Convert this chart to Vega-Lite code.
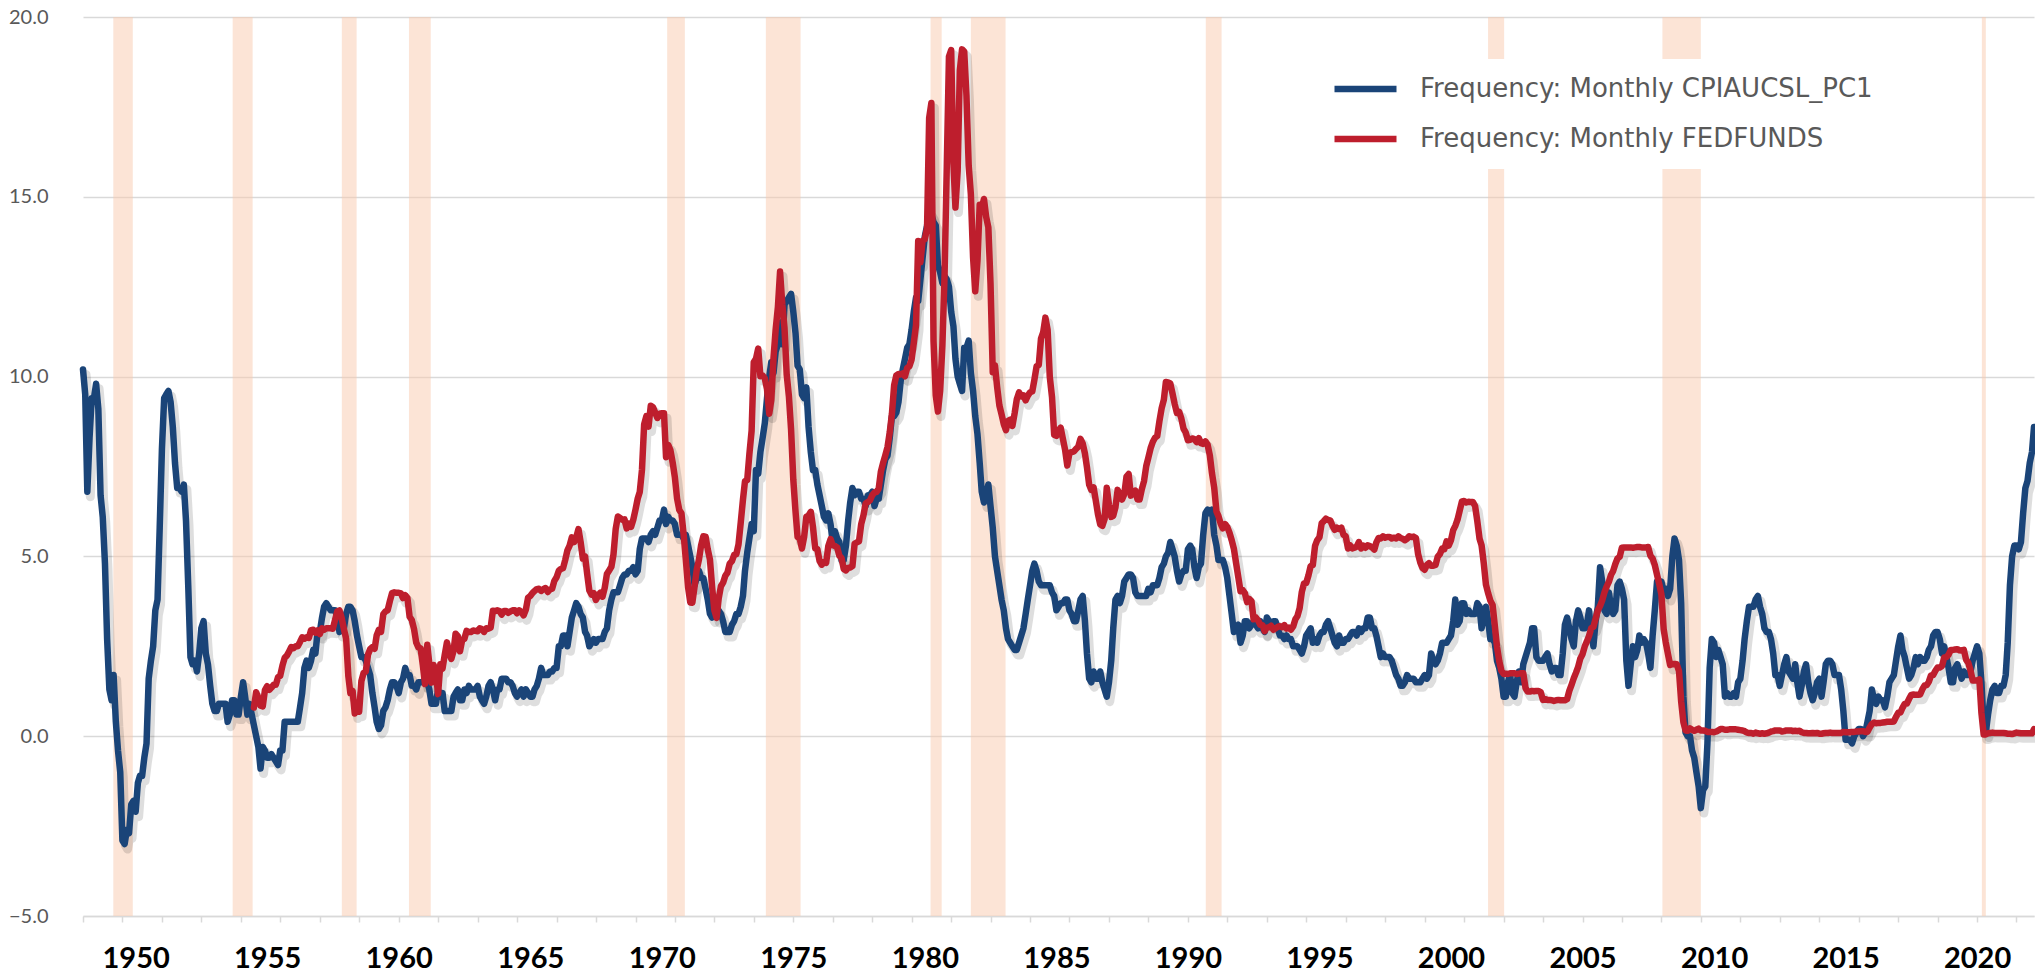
{
"$schema": "https://vega.github.io/schema/vega-lite/v6.json",
"width": 1951,
"height": 899,
"autosize": {"type": "none"},
"padding": {"left": 83, "top": 17, "right": 1, "bottom": 56},
"background": "#ffffff",
"datasets": {
"r": [
{"d":"1949-02-25","e":"1949-11-22"},{"d":"1953-09-09","e":"1954-06-13"},{"d":"1957-11-03","e":"1958-05-27"},{"d":"1960-05-23","e":"1961-03-21"},{"d":"1970-03-17","e":"1970-11-17"},{"d":"1973-12-16","e":"1975-04-12"},{"d":"1980-03-21","e":"1980-08-22"},{"d":"1981-10-01","e":"1983-01-26"},{"d":"1990-09-06","e":"1991-04-13"},{"d":"2001-05-30","e":"2002-01-08"},{"d":"2008-01-15","e":"2009-07-01"},{"d":"2020-03-07","e":"2020-05-01"}
],
"m": [
{"d":"1948-01","c":10.2},{"d":"1948-02","c":9.5},{"d":"1948-03","c":6.8},{"d":"1948-04","c":8.3},{"d":"1948-05","c":9.4},{"d":"1948-06","c":9.4},{"d":"1948-07","c":9.8},{"d":"1948-08","c":9.1},{"d":"1948-09","c":6.7},{"d":"1948-10","c":6.1},{"d":"1948-11","c":4.8},{"d":"1948-12","c":2.7},
{"d":"1949-01","c":1.3},{"d":"1949-02","c":1.0},{"d":"1949-03","c":1.7},{"d":"1949-04","c":0.4},{"d":"1949-05","c":-0.4},{"d":"1949-06","c":-1.0},{"d":"1949-07","c":-2.9},{"d":"1949-08","c":-3.0},{"d":"1949-09","c":-2.6},{"d":"1949-10","c":-2.7},{"d":"1949-11","c":-1.9},{"d":"1949-12","c":-1.8},
{"d":"1950-01","c":-2.1},{"d":"1950-02","c":-1.3},{"d":"1950-03","c":-1.1},{"d":"1950-04","c":-1.1},{"d":"1950-05","c":-0.6},{"d":"1950-06","c":-0.2},{"d":"1950-07","c":1.6},{"d":"1950-08","c":2.1},{"d":"1950-09","c":2.5},{"d":"1950-10","c":3.5},{"d":"1950-11","c":3.8},{"d":"1950-12","c":5.8},
{"d":"1951-01","c":8.0},{"d":"1951-02","c":9.4},{"d":"1951-03","c":9.5},{"d":"1951-04","c":9.6},{"d":"1951-05","c":9.3},{"d":"1951-06","c":8.6},{"d":"1951-07","c":7.6},{"d":"1951-08","c":6.9},{"d":"1951-09","c":6.9},{"d":"1951-10","c":6.8},{"d":"1951-11","c":7.0},{"d":"1951-12","c":6.0},
{"d":"1952-01","c":4.2},{"d":"1952-02","c":2.2},{"d":"1952-03","c":2.0},{"d":"1952-04","c":2.1},{"d":"1952-05","c":1.8},{"d":"1952-06","c":2.3},{"d":"1952-07","c":3.0},{"d":"1952-08","c":3.2},{"d":"1952-09","c":2.3},{"d":"1952-10","c":2.0},{"d":"1952-11","c":1.4},{"d":"1952-12","c":0.9},
{"d":"1953-01","c":0.7},{"d":"1953-02","c":0.7},{"d":"1953-03","c":0.9},{"d":"1953-04","c":0.9},{"d":"1953-05","c":0.9},{"d":"1953-06","c":0.9},{"d":"1953-07","c":0.4},{"d":"1953-08","c":0.6},{"d":"1953-09","c":1.0},{"d":"1953-10","c":1.0},{"d":"1953-11","c":0.6},{"d":"1953-12","c":0.6},
{"d":"1954-01","c":1.1},{"d":"1954-02","c":1.5},{"d":"1954-03","c":1.1},{"d":"1954-04","c":0.6},{"d":"1954-05","c":0.9},{"d":"1954-06","c":0.6},{"d":"1954-07","c":0.3,"f":0.80},{"d":"1954-08","c":0.0,"f":1.22},{"d":"1954-09","c":-0.3,"f":1.07},{"d":"1954-10","c":-0.9,"f":0.85},{"d":"1954-11","c":-0.3,"f":0.83},{"d":"1954-12","c":-0.4,"f":1.28},
{"d":"1955-01","c":-0.6,"f":1.39},{"d":"1955-02","c":-0.6,"f":1.29},{"d":"1955-03","c":-0.5,"f":1.35},{"d":"1955-04","c":-0.6,"f":1.43},{"d":"1955-05","c":-0.7,"f":1.43},{"d":"1955-06","c":-0.8,"f":1.64},{"d":"1955-07","c":-0.4,"f":1.68},{"d":"1955-08","c":-0.4,"f":1.96},{"d":"1955-09","c":0.4,"f":2.18},{"d":"1955-10","c":0.4,"f":2.24},{"d":"1955-11","c":0.4,"f":2.35},{"d":"1955-12","c":0.4,"f":2.48},
{"d":"1956-01","c":0.4,"f":2.45},{"d":"1956-02","c":0.4,"f":2.50},{"d":"1956-03","c":0.4,"f":2.50},{"d":"1956-04","c":0.8,"f":2.62},{"d":"1956-05","c":1.2,"f":2.75},{"d":"1956-06","c":1.9,"f":2.71},{"d":"1956-07","c":2.1,"f":2.75},{"d":"1956-08","c":1.9,"f":2.73},{"d":"1956-09","c":2.1,"f":2.95},{"d":"1956-10","c":2.4,"f":2.96},{"d":"1956-11","c":2.3,"f":2.88},{"d":"1956-12","c":2.9,"f":2.94},
{"d":"1957-01","c":2.9,"f":2.84},{"d":"1957-02","c":3.3,"f":3.00},{"d":"1957-03","c":3.6,"f":2.96},{"d":"1957-04","c":3.7,"f":3.00},{"d":"1957-05","c":3.6,"f":3.00},{"d":"1957-06","c":3.5,"f":3.00},{"d":"1957-07","c":3.5,"f":2.99},{"d":"1957-08","c":3.5,"f":3.24},{"d":"1957-09","c":3.3,"f":3.47},{"d":"1957-10","c":2.9,"f":3.50},{"d":"1957-11","c":3.3,"f":3.28},{"d":"1957-12","c":3.0,"f":2.98},
{"d":"1958-01","c":3.4,"f":2.72},{"d":"1958-02","c":3.6,"f":1.67},{"d":"1958-03","c":3.6,"f":1.20},{"d":"1958-04","c":3.5,"f":1.26},{"d":"1958-05","c":3.2,"f":0.63},{"d":"1958-06","c":2.8,"f":0.93},{"d":"1958-07","c":2.5,"f":0.68},{"d":"1958-08","c":2.2,"f":1.53},{"d":"1958-09","c":2.2,"f":1.76},{"d":"1958-10","c":2.1,"f":1.80},{"d":"1958-11","c":1.9,"f":2.27},{"d":"1958-12","c":1.7,"f":2.42},
{"d":"1959-01","c":1.2,"f":2.48},{"d":"1959-02","c":0.8,"f":2.43},{"d":"1959-03","c":0.4,"f":2.80},{"d":"1959-04","c":0.2,"f":2.96},{"d":"1959-05","c":0.3,"f":2.90},{"d":"1959-06","c":0.7,"f":3.39},{"d":"1959-07","c":0.8,"f":3.47},{"d":"1959-08","c":1.0,"f":3.50},{"d":"1959-09","c":1.3,"f":3.76},{"d":"1959-10","c":1.5,"f":3.98},{"d":"1959-11","c":1.5,"f":4.00},{"d":"1959-12","c":1.4,"f":3.99},
{"d":"1960-01","c":1.2,"f":3.99},{"d":"1960-02","c":1.5,"f":3.97},{"d":"1960-03","c":1.6,"f":3.84},{"d":"1960-04","c":1.9,"f":3.92},{"d":"1960-05","c":1.7,"f":3.85},{"d":"1960-06","c":1.7,"f":3.32},{"d":"1960-07","c":1.4,"f":3.23},{"d":"1960-08","c":1.4,"f":2.98},{"d":"1960-09","c":1.3,"f":2.60},{"d":"1960-10","c":1.5,"f":2.47},{"d":"1960-11","c":1.5,"f":2.44},{"d":"1960-12","c":1.5,"f":1.98},
{"d":"1961-01","c":1.6,"f":1.45},{"d":"1961-02","c":1.5,"f":2.54},{"d":"1961-03","c":1.3,"f":2.02},{"d":"1961-04","c":0.9,"f":1.49},{"d":"1961-05","c":0.9,"f":1.98},{"d":"1961-06","c":0.9,"f":1.73},{"d":"1961-07","c":1.3,"f":1.17},{"d":"1961-08","c":1.1,"f":2.00},{"d":"1961-09","c":1.2,"f":1.88},{"d":"1961-10","c":0.7,"f":2.26},{"d":"1961-11","c":0.7,"f":2.61},{"d":"1961-12","c":0.7,"f":2.33},
{"d":"1962-01","c":0.7,"f":2.15},{"d":"1962-02","c":1.1,"f":2.37},{"d":"1962-03","c":1.2,"f":2.85},{"d":"1962-04","c":1.3,"f":2.78},{"d":"1962-05","c":1.0,"f":2.36},{"d":"1962-06","c":1.0,"f":2.68},{"d":"1962-07","c":1.3,"f":2.71},{"d":"1962-08","c":1.2,"f":2.93},{"d":"1962-09","c":1.4,"f":2.90},{"d":"1962-10","c":1.3,"f":2.90},{"d":"1962-11","c":1.3,"f":2.94},{"d":"1962-12","c":1.3,"f":2.93},
{"d":"1963-01","c":1.4,"f":2.92},{"d":"1963-02","c":1.1,"f":3.00},{"d":"1963-03","c":1.0,"f":2.98},{"d":"1963-04","c":0.9,"f":2.90},{"d":"1963-05","c":1.1,"f":3.00},{"d":"1963-06","c":1.4,"f":2.99},{"d":"1963-07","c":1.5,"f":3.02},{"d":"1963-08","c":1.3,"f":3.49},{"d":"1963-09","c":1.0,"f":3.48},{"d":"1963-10","c":1.3,"f":3.50},{"d":"1963-11","c":1.3,"f":3.48},{"d":"1963-12","c":1.6,"f":3.38},
{"d":"1964-01","c":1.6,"f":3.48},{"d":"1964-02","c":1.6,"f":3.48},{"d":"1964-03","c":1.5,"f":3.43},{"d":"1964-04","c":1.5,"f":3.47},{"d":"1964-05","c":1.4,"f":3.50},{"d":"1964-06","c":1.2,"f":3.50},{"d":"1964-07","c":1.1,"f":3.42},{"d":"1964-08","c":1.2,"f":3.50},{"d":"1964-09","c":1.3,"f":3.45},{"d":"1964-10","c":1.1,"f":3.36},{"d":"1964-11","c":1.3,"f":3.52},{"d":"1964-12","c":1.2,"f":3.85},
{"d":"1965-01","c":1.1,"f":3.90},{"d":"1965-02","c":1.1,"f":3.98},{"d":"1965-03","c":1.3,"f":4.04},{"d":"1965-04","c":1.4,"f":4.09},{"d":"1965-05","c":1.6,"f":4.10},{"d":"1965-06","c":1.9,"f":4.04},{"d":"1965-07","c":1.7,"f":4.09},{"d":"1965-08","c":1.7,"f":4.12},{"d":"1965-09","c":1.7,"f":4.01},{"d":"1965-10","c":1.8,"f":4.08},{"d":"1965-11","c":1.8,"f":4.10},{"d":"1965-12","c":1.9,"f":4.32},
{"d":"1966-01","c":1.9,"f":4.42},{"d":"1966-02","c":2.5,"f":4.60},{"d":"1966-03","c":2.5,"f":4.65},{"d":"1966-04","c":2.8,"f":4.67},{"d":"1966-05","c":2.8,"f":4.90},{"d":"1966-06","c":2.5,"f":5.17},{"d":"1966-07","c":2.9,"f":5.30},{"d":"1966-08","c":3.3,"f":5.53},{"d":"1966-09","c":3.5,"f":5.40},{"d":"1966-10","c":3.7,"f":5.53},{"d":"1966-11","c":3.6,"f":5.76},{"d":"1966-12","c":3.4,"f":5.40},
{"d":"1967-01","c":3.3,"f":4.94},{"d":"1967-02","c":2.9,"f":5.00},{"d":"1967-03","c":2.8,"f":4.53},{"d":"1967-04","c":2.5,"f":4.05},{"d":"1967-05","c":2.6,"f":3.94},{"d":"1967-06","c":2.7,"f":3.98},{"d":"1967-07","c":2.6,"f":3.79},{"d":"1967-08","c":2.7,"f":3.90},{"d":"1967-09","c":2.7,"f":3.99},{"d":"1967-10","c":2.7,"f":3.88},{"d":"1967-11","c":2.9,"f":4.13},{"d":"1967-12","c":3.0,"f":4.51},
{"d":"1968-01","c":3.5,"f":4.61},{"d":"1968-02","c":3.8,"f":4.71},{"d":"1968-03","c":4.0,"f":5.05},{"d":"1968-04","c":4.0,"f":5.76},{"d":"1968-05","c":4.0,"f":6.11},{"d":"1968-06","c":4.2,"f":6.07},{"d":"1968-07","c":4.4,"f":6.02},{"d":"1968-08","c":4.5,"f":6.03},{"d":"1968-09","c":4.5,"f":5.78},{"d":"1968-10","c":4.6,"f":5.91},{"d":"1968-11","c":4.6,"f":5.82},{"d":"1968-12","c":4.7,"f":6.02},
{"d":"1969-01","c":4.5,"f":6.30},{"d":"1969-02","c":4.6,"f":6.61},{"d":"1969-03","c":5.2,"f":6.79},{"d":"1969-04","c":5.5,"f":7.41},{"d":"1969-05","c":5.5,"f":8.67},{"d":"1969-06","c":5.5,"f":8.90},{"d":"1969-07","c":5.4,"f":8.61},{"d":"1969-08","c":5.6,"f":9.19},{"d":"1969-09","c":5.7,"f":9.15},{"d":"1969-10","c":5.6,"f":9.00},{"d":"1969-11","c":5.8,"f":8.85},{"d":"1969-12","c":6.0,"f":8.97},
{"d":"1970-01","c":6.0,"f":8.98},{"d":"1970-02","c":6.3,"f":8.98},{"d":"1970-03","c":5.9,"f":7.76},{"d":"1970-04","c":6.1,"f":8.10},{"d":"1970-05","c":6.0,"f":7.95},{"d":"1970-06","c":6.0,"f":7.61},{"d":"1970-07","c":5.9,"f":7.21},{"d":"1970-08","c":5.6,"f":6.61},{"d":"1970-09","c":5.6,"f":6.29},{"d":"1970-10","c":5.6,"f":6.20},{"d":"1970-11","c":5.5,"f":5.60},{"d":"1970-12","c":5.6,"f":4.90},
{"d":"1971-01","c":5.3,"f":4.14},{"d":"1971-02","c":5.0,"f":3.72},{"d":"1971-03","c":4.7,"f":3.71},{"d":"1971-04","c":4.2,"f":4.16},{"d":"1971-05","c":4.4,"f":4.63},{"d":"1971-06","c":4.6,"f":4.91},{"d":"1971-07","c":4.4,"f":5.31},{"d":"1971-08","c":4.4,"f":5.56},{"d":"1971-09","c":4.1,"f":5.55},{"d":"1971-10","c":3.8,"f":5.20},{"d":"1971-11","c":3.4,"f":4.91},{"d":"1971-12","c":3.3,"f":4.14},
{"d":"1972-01","c":3.4,"f":3.50},{"d":"1972-02","c":3.5,"f":3.29},{"d":"1972-03","c":3.5,"f":3.83},{"d":"1972-04","c":3.4,"f":4.17},{"d":"1972-05","c":3.2,"f":4.27},{"d":"1972-06","c":2.9,"f":4.46},{"d":"1972-07","c":2.9,"f":4.55},{"d":"1972-08","c":2.9,"f":4.80},{"d":"1972-09","c":3.1,"f":4.87},{"d":"1972-10","c":3.2,"f":5.04},{"d":"1972-11","c":3.4,"f":5.06},{"d":"1972-12","c":3.4,"f":5.33},
{"d":"1973-01","c":3.6,"f":5.94},{"d":"1973-02","c":3.9,"f":6.58},{"d":"1973-03","c":4.6,"f":7.09},{"d":"1973-04","c":5.1,"f":7.12},{"d":"1973-05","c":5.5,"f":7.84},{"d":"1973-06","c":5.9,"f":8.49},{"d":"1973-07","c":5.7,"f":10.40},{"d":"1973-08","c":7.4,"f":10.50},{"d":"1973-09","c":7.3,"f":10.78},{"d":"1973-10","c":7.9,"f":10.01},{"d":"1973-11","c":8.3,"f":10.03},{"d":"1973-12","c":8.7,"f":9.95},
{"d":"1974-01","c":9.4,"f":9.65},{"d":"1974-02","c":10.0,"f":8.97},{"d":"1974-03","c":10.4,"f":9.35},{"d":"1974-04","c":10.1,"f":10.51},{"d":"1974-05","c":10.7,"f":11.31},{"d":"1974-06","c":10.9,"f":11.93},{"d":"1974-07","c":11.5,"f":12.92},{"d":"1974-08","c":10.9,"f":12.01},{"d":"1974-09","c":12.0,"f":11.34},{"d":"1974-10","c":12.1,"f":10.06},{"d":"1974-11","c":12.2,"f":9.45},{"d":"1974-12","c":12.3,"f":8.53},
{"d":"1975-01","c":11.8,"f":7.13},{"d":"1975-02","c":11.2,"f":6.24},{"d":"1975-03","c":10.3,"f":5.54},{"d":"1975-04","c":10.2,"f":5.49},{"d":"1975-05","c":9.5,"f":5.22},{"d":"1975-06","c":9.4,"f":5.55},{"d":"1975-07","c":9.7,"f":6.10},{"d":"1975-08","c":8.6,"f":6.14},{"d":"1975-09","c":7.9,"f":6.24},{"d":"1975-10","c":7.4,"f":5.82},{"d":"1975-11","c":7.4,"f":5.22},{"d":"1975-12","c":7.0,"f":5.20},
{"d":"1976-01","c":6.7,"f":4.87},{"d":"1976-02","c":6.4,"f":4.77},{"d":"1976-03","c":6.1,"f":4.84},{"d":"1976-04","c":6.0,"f":4.82},{"d":"1976-05","c":6.2,"f":5.29},{"d":"1976-06","c":5.9,"f":5.48},{"d":"1976-07","c":5.4,"f":5.31},{"d":"1976-08","c":5.7,"f":5.29},{"d":"1976-09","c":5.5,"f":5.25},{"d":"1976-10","c":5.4,"f":5.02},{"d":"1976-11","c":4.9,"f":4.95},{"d":"1976-12","c":4.9,"f":4.65},
{"d":"1977-01","c":5.3,"f":4.61},{"d":"1977-02","c":6.0,"f":4.68},{"d":"1977-03","c":6.5,"f":4.69},{"d":"1977-04","c":6.9,"f":4.73},{"d":"1977-05","c":6.7,"f":5.35},{"d":"1977-06","c":6.8,"f":5.39},{"d":"1977-07","c":6.8,"f":5.42},{"d":"1977-08","c":6.6,"f":5.90},{"d":"1977-09","c":6.6,"f":6.14},{"d":"1977-10","c":6.4,"f":6.47},{"d":"1977-11","c":6.7,"f":6.51},{"d":"1977-12","c":6.7,"f":6.56},
{"d":"1978-01","c":6.8,"f":6.70},{"d":"1978-02","c":6.4,"f":6.78},{"d":"1978-03","c":6.6,"f":6.79},{"d":"1978-04","c":6.6,"f":6.89},{"d":"1978-05","c":7.0,"f":7.36},{"d":"1978-06","c":7.4,"f":7.60},{"d":"1978-07","c":7.7,"f":7.81},{"d":"1978-08","c":7.8,"f":8.04},{"d":"1978-09","c":8.3,"f":8.45},{"d":"1978-10","c":8.9,"f":8.96},{"d":"1978-11","c":8.9,"f":9.76},{"d":"1978-12","c":9.0,"f":10.03},
{"d":"1979-01","c":9.3,"f":10.07},{"d":"1979-02","c":9.9,"f":10.06},{"d":"1979-03","c":10.2,"f":10.09},{"d":"1979-04","c":10.5,"f":10.01},{"d":"1979-05","c":10.8,"f":10.24},{"d":"1979-06","c":10.9,"f":10.29},{"d":"1979-07","c":11.3,"f":10.47},{"d":"1979-08","c":11.8,"f":10.94},{"d":"1979-09","c":12.2,"f":11.43},{"d":"1979-10","c":12.1,"f":13.77},{"d":"1979-11","c":12.7,"f":13.18},{"d":"1979-12","c":13.3,"f":13.78},
{"d":"1980-01","c":13.9,"f":13.82},{"d":"1980-02","c":14.2,"f":14.13},{"d":"1980-03","c":14.6,"f":17.19},{"d":"1980-04","c":14.5,"f":17.61},{"d":"1980-05","c":14.3,"f":10.98},{"d":"1980-06","c":14.2,"f":9.47},{"d":"1980-07","c":13.1,"f":9.03},{"d":"1980-08","c":12.9,"f":9.61},{"d":"1980-09","c":12.6,"f":10.87},{"d":"1980-10","c":12.8,"f":12.81},{"d":"1980-11","c":12.7,"f":15.85},{"d":"1980-12","c":12.5,"f":18.90},
{"d":"1981-01","c":11.8,"f":19.08},{"d":"1981-02","c":11.4,"f":15.93},{"d":"1981-03","c":10.5,"f":14.70},{"d":"1981-04","c":10.0,"f":15.72},{"d":"1981-05","c":9.8,"f":18.52},{"d":"1981-06","c":9.6,"f":19.10},{"d":"1981-07","c":10.8,"f":19.04},{"d":"1981-08","c":10.8,"f":17.82},{"d":"1981-09","c":11.0,"f":15.87},{"d":"1981-10","c":10.1,"f":15.08},{"d":"1981-11","c":9.6,"f":13.31},{"d":"1981-12","c":8.9,"f":12.37},
{"d":"1982-01","c":8.4,"f":13.22},{"d":"1982-02","c":7.6,"f":14.78},{"d":"1982-03","c":6.8,"f":14.68},{"d":"1982-04","c":6.5,"f":14.94},{"d":"1982-05","c":6.7,"f":14.45},{"d":"1982-06","c":7.0,"f":14.15},{"d":"1982-07","c":6.4,"f":12.59},{"d":"1982-08","c":5.8,"f":10.12},{"d":"1982-09","c":5.0,"f":10.31},{"d":"1982-10","c":4.6,"f":9.71},{"d":"1982-11","c":4.2,"f":9.20},{"d":"1982-12","c":3.8,"f":8.95},
{"d":"1983-01","c":3.5,"f":8.68},{"d":"1983-02","c":3.0,"f":8.51},{"d":"1983-03","c":2.7,"f":8.77},{"d":"1983-04","c":2.6,"f":8.80},{"d":"1983-05","c":2.5,"f":8.63},{"d":"1983-06","c":2.4,"f":8.98},{"d":"1983-07","c":2.4,"f":9.37},{"d":"1983-08","c":2.6,"f":9.56},{"d":"1983-09","c":2.8,"f":9.45},{"d":"1983-10","c":3.0,"f":9.48},{"d":"1983-11","c":3.4,"f":9.34},{"d":"1983-12","c":3.8,"f":9.47},
{"d":"1984-01","c":4.2,"f":9.56},{"d":"1984-02","c":4.6,"f":9.59},{"d":"1984-03","c":4.8,"f":9.91},{"d":"1984-04","c":4.6,"f":10.29},{"d":"1984-05","c":4.3,"f":10.32},{"d":"1984-06","c":4.2,"f":11.06},{"d":"1984-07","c":4.2,"f":11.23},{"d":"1984-08","c":4.2,"f":11.64},{"d":"1984-09","c":4.2,"f":11.30},{"d":"1984-10","c":4.2,"f":9.99},{"d":"1984-11","c":4.0,"f":9.43},{"d":"1984-12","c":3.9,"f":8.38},
{"d":"1985-01","c":3.5,"f":8.35},{"d":"1985-02","c":3.6,"f":8.50},{"d":"1985-03","c":3.7,"f":8.58},{"d":"1985-04","c":3.7,"f":8.27},{"d":"1985-05","c":3.8,"f":7.97},{"d":"1985-06","c":3.8,"f":7.53},{"d":"1985-07","c":3.5,"f":7.88},{"d":"1985-08","c":3.4,"f":7.90},{"d":"1985-09","c":3.2,"f":7.92},{"d":"1985-10","c":3.2,"f":7.99},{"d":"1985-11","c":3.5,"f":8.05},{"d":"1985-12","c":3.8,"f":8.27},
{"d":"1986-01","c":3.9,"f":8.14},{"d":"1986-02","c":3.2,"f":7.86},{"d":"1986-03","c":2.3,"f":7.48},{"d":"1986-04","c":1.6,"f":6.99},{"d":"1986-05","c":1.5,"f":6.85},{"d":"1986-06","c":1.8,"f":6.92},{"d":"1986-07","c":1.6,"f":6.56},{"d":"1986-08","c":1.6,"f":6.17},{"d":"1986-09","c":1.8,"f":5.89},{"d":"1986-10","c":1.5,"f":5.85},{"d":"1986-11","c":1.3,"f":6.04},{"d":"1986-12","c":1.1,"f":6.91},
{"d":"1987-01","c":1.5,"f":6.43},{"d":"1987-02","c":2.1,"f":6.10},{"d":"1987-03","c":3.0,"f":6.13},{"d":"1987-04","c":3.8,"f":6.37},{"d":"1987-05","c":3.9,"f":6.85},{"d":"1987-06","c":3.7,"f":6.73},{"d":"1987-07","c":3.9,"f":6.58},{"d":"1987-08","c":4.3,"f":6.73},{"d":"1987-09","c":4.4,"f":7.22},{"d":"1987-10","c":4.5,"f":7.29},{"d":"1987-11","c":4.5,"f":6.69},{"d":"1987-12","c":4.4,"f":6.77},
{"d":"1988-01","c":4.0,"f":6.83},{"d":"1988-02","c":3.9,"f":6.58},{"d":"1988-03","c":3.9,"f":6.58},{"d":"1988-04","c":3.9,"f":6.87},{"d":"1988-05","c":3.9,"f":7.09},{"d":"1988-06","c":3.9,"f":7.51},{"d":"1988-07","c":4.1,"f":7.75},{"d":"1988-08","c":4.0,"f":8.01},{"d":"1988-09","c":4.2,"f":8.19},{"d":"1988-10","c":4.2,"f":8.30},{"d":"1988-11","c":4.2,"f":8.35},{"d":"1988-12","c":4.4,"f":8.76},
{"d":"1989-01","c":4.7,"f":9.12},{"d":"1989-02","c":4.8,"f":9.36},{"d":"1989-03","c":5.0,"f":9.85},{"d":"1989-04","c":5.1,"f":9.84},{"d":"1989-05","c":5.4,"f":9.81},{"d":"1989-06","c":5.2,"f":9.53},{"d":"1989-07","c":5.0,"f":9.24},{"d":"1989-08","c":4.6,"f":8.99},{"d":"1989-09","c":4.3,"f":9.02},{"d":"1989-10","c":4.5,"f":8.84},{"d":"1989-11","c":4.6,"f":8.55},{"d":"1989-12","c":4.6,"f":8.45},
{"d":"1990-01","c":5.2,"f":8.23},{"d":"1990-02","c":5.3,"f":8.24},{"d":"1990-03","c":5.2,"f":8.28},{"d":"1990-04","c":4.7,"f":8.26},{"d":"1990-05","c":4.4,"f":8.18},{"d":"1990-06","c":4.7,"f":8.29},{"d":"1990-07","c":4.8,"f":8.15},{"d":"1990-08","c":5.6,"f":8.13},{"d":"1990-09","c":6.2,"f":8.20},{"d":"1990-10","c":6.3,"f":8.11},{"d":"1990-11","c":6.2,"f":7.81},{"d":"1990-12","c":6.3,"f":7.31},
{"d":"1991-01","c":5.6,"f":6.91},{"d":"1991-02","c":5.3,"f":6.25},{"d":"1991-03","c":4.9,"f":6.12},{"d":"1991-04","c":4.9,"f":5.91},{"d":"1991-05","c":4.9,"f":5.78},{"d":"1991-06","c":4.7,"f":5.90},{"d":"1991-07","c":4.4,"f":5.82},{"d":"1991-08","c":3.9,"f":5.66},{"d":"1991-09","c":3.4,"f":5.45},{"d":"1991-10","c":2.9,"f":5.21},{"d":"1991-11","c":3.0,"f":4.81},{"d":"1991-12","c":3.1,"f":4.43},
{"d":"1992-01","c":2.6,"f":4.03},{"d":"1992-02","c":2.8,"f":4.06},{"d":"1992-03","c":3.2,"f":3.98},{"d":"1992-04","c":3.2,"f":3.73},{"d":"1992-05","c":3.0,"f":3.82},{"d":"1992-06","c":3.1,"f":3.76},{"d":"1992-07","c":3.2,"f":3.25},{"d":"1992-08","c":3.1,"f":3.30},{"d":"1992-09","c":3.0,"f":3.22},{"d":"1992-10","c":3.2,"f":3.10},{"d":"1992-11","c":3.0,"f":3.09},{"d":"1992-12","c":2.9,"f":2.92},
{"d":"1993-01","c":3.3,"f":3.02},{"d":"1993-02","c":3.2,"f":3.03},{"d":"1993-03","c":3.1,"f":3.07},{"d":"1993-04","c":3.2,"f":2.96},{"d":"1993-05","c":3.2,"f":3.00},{"d":"1993-06","c":3.0,"f":3.04},{"d":"1993-07","c":2.8,"f":3.06},{"d":"1993-08","c":2.8,"f":3.03},{"d":"1993-09","c":2.7,"f":3.09},{"d":"1993-10","c":2.8,"f":2.99},{"d":"1993-11","c":2.7,"f":3.02},{"d":"1993-12","c":2.7,"f":2.96},
{"d":"1994-01","c":2.5,"f":3.05},{"d":"1994-02","c":2.5,"f":3.25},{"d":"1994-03","c":2.5,"f":3.34},{"d":"1994-04","c":2.4,"f":3.56},{"d":"1994-05","c":2.3,"f":4.01},{"d":"1994-06","c":2.5,"f":4.25},{"d":"1994-07","c":2.8,"f":4.26},{"d":"1994-08","c":2.9,"f":4.47},{"d":"1994-09","c":3.0,"f":4.73},{"d":"1994-10","c":2.6,"f":4.76},{"d":"1994-11","c":2.7,"f":5.29},{"d":"1994-12","c":2.6,"f":5.45},
{"d":"1995-01","c":2.8,"f":5.53},{"d":"1995-02","c":2.9,"f":5.92},{"d":"1995-03","c":2.9,"f":5.98},{"d":"1995-04","c":3.1,"f":6.05},{"d":"1995-05","c":3.2,"f":6.01},{"d":"1995-06","c":3.0,"f":6.00},{"d":"1995-07","c":2.8,"f":5.85},{"d":"1995-08","c":2.6,"f":5.74},{"d":"1995-09","c":2.5,"f":5.80},{"d":"1995-10","c":2.8,"f":5.76},{"d":"1995-11","c":2.6,"f":5.80},{"d":"1995-12","c":2.6,"f":5.60},
{"d":"1996-01","c":2.7,"f":5.56},{"d":"1996-02","c":2.7,"f":5.22},{"d":"1996-03","c":2.8,"f":5.31},{"d":"1996-04","c":2.9,"f":5.22},{"d":"1996-05","c":2.9,"f":5.24},{"d":"1996-06","c":2.8,"f":5.27},{"d":"1996-07","c":3.0,"f":5.40},{"d":"1996-08","c":2.9,"f":5.22},{"d":"1996-09","c":3.0,"f":5.30},{"d":"1996-10","c":3.0,"f":5.24},{"d":"1996-11","c":3.3,"f":5.31},{"d":"1996-12","c":3.3,"f":5.29},
{"d":"1997-01","c":3.0,"f":5.25},{"d":"1997-02","c":3.0,"f":5.19},{"d":"1997-03","c":2.8,"f":5.39},{"d":"1997-04","c":2.5,"f":5.51},{"d":"1997-05","c":2.2,"f":5.50},{"d":"1997-06","c":2.3,"f":5.56},{"d":"1997-07","c":2.2,"f":5.52},{"d":"1997-08","c":2.2,"f":5.54},{"d":"1997-09","c":2.2,"f":5.54},{"d":"1997-10","c":2.1,"f":5.50},{"d":"1997-11","c":1.9,"f":5.52},{"d":"1997-12","c":1.7,"f":5.50},
{"d":"1998-01","c":1.6,"f":5.56},{"d":"1998-02","c":1.4,"f":5.51},{"d":"1998-03","c":1.4,"f":5.49},{"d":"1998-04","c":1.5,"f":5.45},{"d":"1998-05","c":1.7,"f":5.49},{"d":"1998-06","c":1.6,"f":5.56},{"d":"1998-07","c":1.6,"f":5.54},{"d":"1998-08","c":1.6,"f":5.55},{"d":"1998-09","c":1.5,"f":5.51},{"d":"1998-10","c":1.5,"f":5.07},{"d":"1998-11","c":1.5,"f":4.83},{"d":"1998-12","c":1.6,"f":4.68},
{"d":"1999-01","c":1.7,"f":4.63},{"d":"1999-02","c":1.6,"f":4.76},{"d":"1999-03","c":1.7,"f":4.81},{"d":"1999-04","c":2.3,"f":4.74},{"d":"1999-05","c":2.1,"f":4.74},{"d":"1999-06","c":2.0,"f":4.76},{"d":"1999-07","c":2.1,"f":4.99},{"d":"1999-08","c":2.3,"f":5.07},{"d":"1999-09","c":2.6,"f":5.22},{"d":"1999-10","c":2.6,"f":5.20},{"d":"1999-11","c":2.6,"f":5.42},{"d":"1999-12","c":2.7,"f":5.30},
{"d":"2000-01","c":2.8,"f":5.45},{"d":"2000-02","c":3.2,"f":5.73},{"d":"2000-03","c":3.8,"f":5.85},{"d":"2000-04","c":3.1,"f":6.02},{"d":"2000-05","c":3.2,"f":6.27},{"d":"2000-06","c":3.7,"f":6.53},{"d":"2000-07","c":3.7,"f":6.54},{"d":"2000-08","c":3.4,"f":6.50},{"d":"2000-09","c":3.5,"f":6.52},{"d":"2000-10","c":3.4,"f":6.51},{"d":"2000-11","c":3.4,"f":6.51},{"d":"2000-12","c":3.4,"f":6.40},
{"d":"2001-01","c":3.7,"f":5.98},{"d":"2001-02","c":3.6,"f":5.49},{"d":"2001-03","c":3.0,"f":5.31},{"d":"2001-04","c":3.3,"f":4.80},{"d":"2001-05","c":3.6,"f":4.21},{"d":"2001-06","c":3.2,"f":3.97},{"d":"2001-07","c":2.7,"f":3.77},{"d":"2001-08","c":2.7,"f":3.65},{"d":"2001-09","c":2.6,"f":3.07},{"d":"2001-10","c":2.1,"f":2.49},{"d":"2001-11","c":1.9,"f":2.09},{"d":"2001-12","c":1.6,"f":1.82},
{"d":"2002-01","c":1.1,"f":1.73},{"d":"2002-02","c":1.1,"f":1.74},{"d":"2002-03","c":1.5,"f":1.73},{"d":"2002-04","c":1.7,"f":1.75},{"d":"2002-05","c":1.2,"f":1.75},{"d":"2002-06","c":1.1,"f":1.75},{"d":"2002-07","c":1.5,"f":1.73},{"d":"2002-08","c":1.8,"f":1.74},{"d":"2002-09","c":1.5,"f":1.75},{"d":"2002-10","c":2.0,"f":1.75},{"d":"2002-11","c":2.2,"f":1.34},{"d":"2002-12","c":2.4,"f":1.24},
{"d":"2003-01","c":2.6,"f":1.24},{"d":"2003-02","c":3.0,"f":1.26},{"d":"2003-03","c":3.0,"f":1.25},{"d":"2003-04","c":2.2,"f":1.26},{"d":"2003-05","c":2.1,"f":1.26},{"d":"2003-06","c":2.1,"f":1.22},{"d":"2003-07","c":2.1,"f":1.01},{"d":"2003-08","c":2.2,"f":1.03},{"d":"2003-09","c":2.3,"f":1.01},{"d":"2003-10","c":2.0,"f":1.01},{"d":"2003-11","c":1.8,"f":1.00},{"d":"2003-12","c":1.9,"f":0.98},
{"d":"2004-01","c":1.9,"f":1.00},{"d":"2004-02","c":1.7,"f":1.01},{"d":"2004-03","c":1.7,"f":1.00},{"d":"2004-04","c":2.3,"f":1.00},{"d":"2004-05","c":3.1,"f":1.00},{"d":"2004-06","c":3.3,"f":1.03},{"d":"2004-07","c":3.0,"f":1.26},{"d":"2004-08","c":2.7,"f":1.43},{"d":"2004-09","c":2.5,"f":1.61},{"d":"2004-10","c":3.2,"f":1.76},{"d":"2004-11","c":3.5,"f":1.93},{"d":"2004-12","c":3.3,"f":2.16},
{"d":"2005-01","c":3.0,"f":2.28},{"d":"2005-02","c":3.0,"f":2.50},{"d":"2005-03","c":3.1,"f":2.63},{"d":"2005-04","c":3.5,"f":2.79},{"d":"2005-05","c":2.9,"f":3.00},{"d":"2005-06","c":2.5,"f":3.04},{"d":"2005-07","c":3.2,"f":3.26},{"d":"2005-08","c":3.6,"f":3.50},{"d":"2005-09","c":4.7,"f":3.62},{"d":"2005-10","c":4.3,"f":3.78},{"d":"2005-11","c":3.5,"f":4.00},{"d":"2005-12","c":3.4,"f":4.16},
{"d":"2006-01","c":4.0,"f":4.29},{"d":"2006-02","c":3.6,"f":4.49},{"d":"2006-03","c":3.4,"f":4.59},{"d":"2006-04","c":3.5,"f":4.79},{"d":"2006-05","c":4.2,"f":4.94},{"d":"2006-06","c":4.3,"f":4.99},{"d":"2006-07","c":4.1,"f":5.24},{"d":"2006-08","c":3.8,"f":5.25},{"d":"2006-09","c":2.1,"f":5.25},{"d":"2006-10","c":1.4,"f":5.25},{"d":"2006-11","c":2.0,"f":5.25},{"d":"2006-12","c":2.5,"f":5.24},
{"d":"2007-01","c":2.2,"f":5.25},{"d":"2007-02","c":2.4,"f":5.26},{"d":"2007-03","c":2.8,"f":5.26},{"d":"2007-04","c":2.6,"f":5.25},{"d":"2007-05","c":2.7,"f":5.25},{"d":"2007-06","c":2.6,"f":5.25},{"d":"2007-07","c":2.3,"f":5.26},{"d":"2007-08","c":1.9,"f":5.02},{"d":"2007-09","c":2.8,"f":4.94},{"d":"2007-10","c":3.5,"f":4.76},{"d":"2007-11","c":4.3,"f":4.49},{"d":"2007-12","c":4.1,"f":4.24},
{"d":"2008-01","c":4.3,"f":3.94},{"d":"2008-02","c":4.0,"f":2.98},{"d":"2008-03","c":4.1,"f":2.61},{"d":"2008-04","c":3.9,"f":2.28},{"d":"2008-05","c":4.1,"f":1.98},{"d":"2008-06","c":5.0,"f":2.00},{"d":"2008-07","c":5.5,"f":2.01},{"d":"2008-08","c":5.3,"f":2.00},{"d":"2008-09","c":4.9,"f":1.81},{"d":"2008-10","c":3.7,"f":0.97},{"d":"2008-11","c":1.1,"f":0.39},{"d":"2008-12","c":0.1,"f":0.16},
{"d":"2009-01","c":0.0,"f":0.15},{"d":"2009-02","c":0.0,"f":0.22},{"d":"2009-03","c":-0.4,"f":0.18},{"d":"2009-04","c":-0.6,"f":0.15},{"d":"2009-05","c":-1.0,"f":0.18},{"d":"2009-06","c":-1.4,"f":0.21},{"d":"2009-07","c":-2.0,"f":0.16},{"d":"2009-08","c":-1.5,"f":0.16},{"d":"2009-09","c":-1.4,"f":0.15},{"d":"2009-10","c":-0.2,"f":0.12},{"d":"2009-11","c":1.9,"f":0.12},{"d":"2009-12","c":2.7,"f":0.12},
{"d":"2010-01","c":2.6,"f":0.11},{"d":"2010-02","c":2.2,"f":0.13},{"d":"2010-03","c":2.4,"f":0.16},{"d":"2010-04","c":2.2,"f":0.20},{"d":"2010-05","c":2.0,"f":0.20},{"d":"2010-06","c":1.1,"f":0.18},{"d":"2010-07","c":1.2,"f":0.18},{"d":"2010-08","c":1.1,"f":0.19},{"d":"2010-09","c":1.1,"f":0.19},{"d":"2010-10","c":1.2,"f":0.19},{"d":"2010-11","c":1.1,"f":0.19},{"d":"2010-12","c":1.5,"f":0.18},
{"d":"2011-01","c":1.6,"f":0.17},{"d":"2011-02","c":2.1,"f":0.16},{"d":"2011-03","c":2.7,"f":0.14},{"d":"2011-04","c":3.2,"f":0.10},{"d":"2011-05","c":3.6,"f":0.09},{"d":"2011-06","c":3.6,"f":0.09},{"d":"2011-07","c":3.6,"f":0.07},{"d":"2011-08","c":3.8,"f":0.10},{"d":"2011-09","c":3.9,"f":0.08},{"d":"2011-10","c":3.6,"f":0.07},{"d":"2011-11","c":3.4,"f":0.08},{"d":"2011-12","c":3.0,"f":0.07},
{"d":"2012-01","c":2.9,"f":0.08},{"d":"2012-02","c":2.9,"f":0.10},{"d":"2012-03","c":2.7,"f":0.13},{"d":"2012-04","c":2.3,"f":0.14},{"d":"2012-05","c":1.7,"f":0.16},{"d":"2012-06","c":1.7,"f":0.16},{"d":"2012-07","c":1.4,"f":0.16},{"d":"2012-08","c":1.7,"f":0.13},{"d":"2012-09","c":2.0,"f":0.14},{"d":"2012-10","c":2.2,"f":0.16},{"d":"2012-11","c":1.8,"f":0.16},{"d":"2012-12","c":1.7,"f":0.16},
{"d":"2013-01","c":1.6,"f":0.14},{"d":"2013-02","c":2.0,"f":0.15},{"d":"2013-03","c":1.5,"f":0.14},{"d":"2013-04","c":1.1,"f":0.15},{"d":"2013-05","c":1.4,"f":0.11},{"d":"2013-06","c":1.8,"f":0.09},{"d":"2013-07","c":2.0,"f":0.09},{"d":"2013-08","c":1.5,"f":0.08},{"d":"2013-09","c":1.2,"f":0.08},{"d":"2013-10","c":1.0,"f":0.09},{"d":"2013-11","c":1.2,"f":0.08},{"d":"2013-12","c":1.5,"f":0.09},
{"d":"2014-01","c":1.6,"f":0.07},{"d":"2014-02","c":1.1,"f":0.07},{"d":"2014-03","c":1.5,"f":0.08},{"d":"2014-04","c":2.0,"f":0.09},{"d":"2014-05","c":2.1,"f":0.09},{"d":"2014-06","c":2.1,"f":0.10},{"d":"2014-07","c":2.0,"f":0.09},{"d":"2014-08","c":1.7,"f":0.09},{"d":"2014-09","c":1.7,"f":0.09},{"d":"2014-10","c":1.7,"f":0.09},{"d":"2014-11","c":1.3,"f":0.09},{"d":"2014-12","c":0.7,"f":0.12},
{"d":"2015-01","c":-0.1,"f":0.11},{"d":"2015-02","c":-0.1,"f":0.11},{"d":"2015-03","c":-0.1,"f":0.11},{"d":"2015-04","c":-0.2,"f":0.12},{"d":"2015-05","c":0.0,"f":0.12},{"d":"2015-06","c":0.1,"f":0.13},{"d":"2015-07","c":0.2,"f":0.13},{"d":"2015-08","c":0.2,"f":0.14},{"d":"2015-09","c":0.0,"f":0.14},{"d":"2015-10","c":0.1,"f":0.12},{"d":"2015-11","c":0.4,"f":0.12},{"d":"2015-12","c":0.7,"f":0.24},
{"d":"2016-01","c":1.3,"f":0.34},{"d":"2016-02","c":1.0,"f":0.38},{"d":"2016-03","c":0.9,"f":0.36},{"d":"2016-04","c":1.1,"f":0.37},{"d":"2016-05","c":1.0,"f":0.37},{"d":"2016-06","c":1.0,"f":0.38},{"d":"2016-07","c":0.8,"f":0.39},{"d":"2016-08","c":1.1,"f":0.40},{"d":"2016-09","c":1.5,"f":0.40},{"d":"2016-10","c":1.6,"f":0.40},{"d":"2016-11","c":1.7,"f":0.41},{"d":"2016-12","c":2.1,"f":0.54},
{"d":"2017-01","c":2.5,"f":0.65},{"d":"2017-02","c":2.8,"f":0.66},{"d":"2017-03","c":2.4,"f":0.79},{"d":"2017-04","c":2.2,"f":0.90},{"d":"2017-05","c":1.9,"f":0.91},{"d":"2017-06","c":1.6,"f":1.04},{"d":"2017-07","c":1.7,"f":1.15},{"d":"2017-08","c":1.9,"f":1.16},{"d":"2017-09","c":2.2,"f":1.15},{"d":"2017-10","c":2.0,"f":1.15},{"d":"2017-11","c":2.2,"f":1.16},{"d":"2017-12","c":2.1,"f":1.30},
{"d":"2018-01","c":2.1,"f":1.41},{"d":"2018-02","c":2.2,"f":1.42},{"d":"2018-03","c":2.4,"f":1.51},{"d":"2018-04","c":2.5,"f":1.69},{"d":"2018-05","c":2.8,"f":1.70},{"d":"2018-06","c":2.9,"f":1.82},{"d":"2018-07","c":2.9,"f":1.91},{"d":"2018-08","c":2.7,"f":1.91},{"d":"2018-09","c":2.3,"f":1.95},{"d":"2018-10","c":2.5,"f":2.19},{"d":"2018-11","c":2.2,"f":2.20},{"d":"2018-12","c":1.9,"f":2.27},
{"d":"2019-01","c":1.5,"f":2.40},{"d":"2019-02","c":1.5,"f":2.40},{"d":"2019-03","c":1.9,"f":2.41},{"d":"2019-04","c":2.0,"f":2.42},{"d":"2019-05","c":1.8,"f":2.39},{"d":"2019-06","c":1.6,"f":2.38},{"d":"2019-07","c":1.8,"f":2.40},{"d":"2019-08","c":1.7,"f":2.13},{"d":"2019-09","c":1.7,"f":2.04},{"d":"2019-10","c":1.8,"f":1.83},{"d":"2019-11","c":2.1,"f":1.55},{"d":"2019-12","c":2.3,"f":1.55},
{"d":"2020-01","c":2.5,"f":1.55},{"d":"2020-02","c":2.3,"f":1.58},{"d":"2020-03","c":1.5,"f":0.65},{"d":"2020-04","c":0.3,"f":0.05},{"d":"2020-05","c":0.1,"f":0.05},{"d":"2020-06","c":0.6,"f":0.08},{"d":"2020-07","c":1.0,"f":0.09},{"d":"2020-08","c":1.3,"f":0.10},{"d":"2020-09","c":1.4,"f":0.09},{"d":"2020-10","c":1.2,"f":0.09},{"d":"2020-11","c":1.2,"f":0.09},{"d":"2020-12","c":1.4,"f":0.09},
{"d":"2021-01","c":1.4,"f":0.09},{"d":"2021-02","c":1.7,"f":0.08},{"d":"2021-03","c":2.6,"f":0.07},{"d":"2021-04","c":4.2,"f":0.07},{"d":"2021-05","c":5.0,"f":0.06},{"d":"2021-06","c":5.3,"f":0.08},{"d":"2021-07","c":5.3,"f":0.10},{"d":"2021-08","c":5.2,"f":0.09},{"d":"2021-09","c":5.4,"f":0.08},{"d":"2021-10","c":6.2,"f":0.08},{"d":"2021-11","c":6.9,"f":0.08},{"d":"2021-12","c":7.1,"f":0.08},
{"d":"2022-01","c":7.6,"f":0.08},{"d":"2022-02","c":7.9,"f":0.08},{"d":"2022-03","c":8.6,"f":0.20}
]
},
"encoding": {
"x": {
"field": "d", "type": "temporal", "title": null,
"scale": {"type": "utc", "domain": [{"year":1948,"month":1,"date":1,"utc":true},{"year":2022,"month":3,"date":1,"utc":true}]},
"axis": {
"values": [
{"year":1948,"month":1,"date":1,"utc":true},{"year":1949,"month":7,"date":1,"utc":true},{"year":1950,"month":1,"date":1,"utc":true},{"year":1951,"month":1,"date":1,"utc":true},{"year":1952,"month":7,"date":1,"utc":true},{"year":1954,"month":1,"date":1,"utc":true},{"year":1955,"month":1,"date":1,"utc":true},{"year":1955,"month":7,"date":1,"utc":true},{"year":1957,"month":1,"date":1,"utc":true},{"year":1958,"month":7,"date":1,"utc":true},{"year":1960,"month":1,"date":1,"utc":true},{"year":1961,"month":7,"date":1,"utc":true},{"year":1963,"month":1,"date":1,"utc":true},{"year":1964,"month":7,"date":1,"utc":true},{"year":1965,"month":1,"date":1,"utc":true},{"year":1966,"month":1,"date":1,"utc":true},{"year":1967,"month":7,"date":1,"utc":true},{"year":1969,"month":1,"date":1,"utc":true},{"year":1970,"month":1,"date":1,"utc":true},{"year":1970,"month":7,"date":1,"utc":true},{"year":1972,"month":1,"date":1,"utc":true},{"year":1973,"month":7,"date":1,"utc":true},{"year":1975,"month":1,"date":1,"utc":true},{"year":1976,"month":7,"date":1,"utc":true},{"year":1978,"month":1,"date":1,"utc":true},{"year":1979,"month":7,"date":1,"utc":true},{"year":1980,"month":1,"date":1,"utc":true},{"year":1981,"month":1,"date":1,"utc":true},{"year":1982,"month":7,"date":1,"utc":true},{"year":1984,"month":1,"date":1,"utc":true},{"year":1985,"month":1,"date":1,"utc":true},{"year":1985,"month":7,"date":1,"utc":true},{"year":1987,"month":1,"date":1,"utc":true},{"year":1988,"month":7,"date":1,"utc":true},{"year":1990,"month":1,"date":1,"utc":true},{"year":1991,"month":7,"date":1,"utc":true},{"year":1993,"month":1,"date":1,"utc":true},{"year":1994,"month":7,"date":1,"utc":true},{"year":1995,"month":1,"date":1,"utc":true},{"year":1996,"month":1,"date":1,"utc":true},{"year":1997,"month":7,"date":1,"utc":true},{"year":1999,"month":1,"date":1,"utc":true},{"year":2000,"month":1,"date":1,"utc":true},{"year":2000,"month":7,"date":1,"utc":true},{"year":2002,"month":1,"date":1,"utc":true},{"year":2003,"month":7,"date":1,"utc":true},{"year":2005,"month":1,"date":1,"utc":true},{"year":2006,"month":7,"date":1,"utc":true},{"year":2008,"month":1,"date":1,"utc":true},{"year":2009,"month":7,"date":1,"utc":true},{"year":2010,"month":1,"date":1,"utc":true},{"year":2011,"month":1,"date":1,"utc":true},{"year":2012,"month":7,"date":1,"utc":true},{"year":2014,"month":1,"date":1,"utc":true},{"year":2015,"month":1,"date":1,"utc":true},{"year":2015,"month":7,"date":1,"utc":true},{"year":2017,"month":1,"date":1,"utc":true},{"year":2018,"month":7,"date":1,"utc":true},{"year":2020,"month":1,"date":1,"utc":true},{"year":2021,"month":7,"date":1,"utc":true}
],
"labelExpr": "utcmonth(datum.value) == 0 && utcyear(datum.value) % 5 == 0 ? utcFormat(datum.value, '%Y') : ''",
"tickOpacity": {"condition": {"test": "utcmonth(datum.value) == 0 && (utcyear(datum.value) - 1948) % 3 != 0", "value": 0}, "value": 1},
"grid": false
}
}
},
"layer": [
{
"data": {"name": "r"},
"mark": {"type": "rect", "color": "#f9caad", "opacity": 0.5},
"encoding": {
"x2": {"field": "e"},
"y": {"datum": 20, "type": "quantitative", "title": null, "scale": {"domain": [-5, 20], "nice": false}, "axis": {"values": [-5, 0, 5, 10, 15, 20], "format": ".1f"}},
"y2": {"datum": -5}
}
},
{
"data": {"name": "m"},
"mark": {"type": "line", "color": "#000000", "opacity": 0.13, "strokeWidth": 9, "strokeJoin": "round", "strokeCap": "round", "xOffset": 3, "yOffset": 5},
"encoding": {"y": {"field": "c", "type": "quantitative", "title": null, "scale": {"domain": [-5, 20], "nice": false}, "axis": {"values": [-5, 0, 5, 10, 15, 20], "format": ".1f"}}}
},
{
"data": {"name": "m"},
"mark": {"type": "line", "color": "#000000", "opacity": 0.13, "strokeWidth": 9, "strokeJoin": "round", "strokeCap": "round", "xOffset": 3, "yOffset": 5},
"encoding": {"y": {"field": "f", "type": "quantitative", "title": null, "scale": {"domain": [-5, 20], "nice": false}, "axis": {"values": [-5, 0, 5, 10, 15, 20], "format": ".1f"}}}
},
{
"data": {"name": "m"},
"mark": {"type": "line", "strokeWidth": 6.5, "strokeJoin": "round", "strokeCap": "round"},
"encoding": {
"y": {"field": "c", "type": "quantitative", "title": null, "scale": {"domain": [-5, 20], "nice": false}, "axis": {"values": [-5, 0, 5, 10, 15, 20], "format": ".1f"}},
"color": {"datum": "Frequency: Monthly CPIAUCSL_PC1", "type": "nominal", "scale": {"domain": ["Frequency: Monthly CPIAUCSL_PC1", "Frequency: Monthly FEDFUNDS"], "range": ["#1a4478", "#be1e2d"]}, "legend": {"title": null}}
}
},
{
"data": {"name": "m"},
"mark": {"type": "line", "strokeWidth": 6.5, "strokeJoin": "round", "strokeCap": "round"},
"encoding": {
"y": {"field": "f", "type": "quantitative", "title": null, "scale": {"domain": [-5, 20], "nice": false}, "axis": {"values": [-5, 0, 5, 10, 15, 20], "format": ".1f"}},
"color": {"datum": "Frequency: Monthly FEDFUNDS", "type": "nominal", "scale": {"domain": ["Frequency: Monthly CPIAUCSL_PC1", "Frequency: Monthly FEDFUNDS"], "range": ["#1a4478", "#be1e2d"]}, "legend": {"title": null}}
}
}
],
"config": {
"view": {"stroke": null},
"font": "Lato",
"axisY": {"grid": true, "gridColor": "#d9d9d9", "gridWidth": 1.5, "domain": false, "ticks": false, "labelFont": "Lato", "labelFontSize": 20, "labelColor": "#595959", "labelPadding": 35},
"axisX": {"domainColor": "#d9d9d9", "domainWidth": 1.5, "tickColor": "#d9d9d9", "tickWidth": 1.5, "tickSize": 6, "labelFont": "Lato", "labelFontSize": 29, "labelFontWeight": "bold", "labelColor": "#000000", "labelPadding": 22, "labelOverlap": false, "labelFlush": false},
"legend": {"orient": "none", "legendX": 1232, "legendY": 42, "fillColor": "#ffffff", "padding": 16, "symbolType": "stroke", "symbolSize": 3844, "symbolStrokeWidth": 6.5, "labelFont": "DejaVu Sans", "labelFontSize": 26, "labelColor": "#595959", "labelOffset": 20, "rowPadding": 22, "clipHeight": 28, "labelLimit": 0}
}
}
